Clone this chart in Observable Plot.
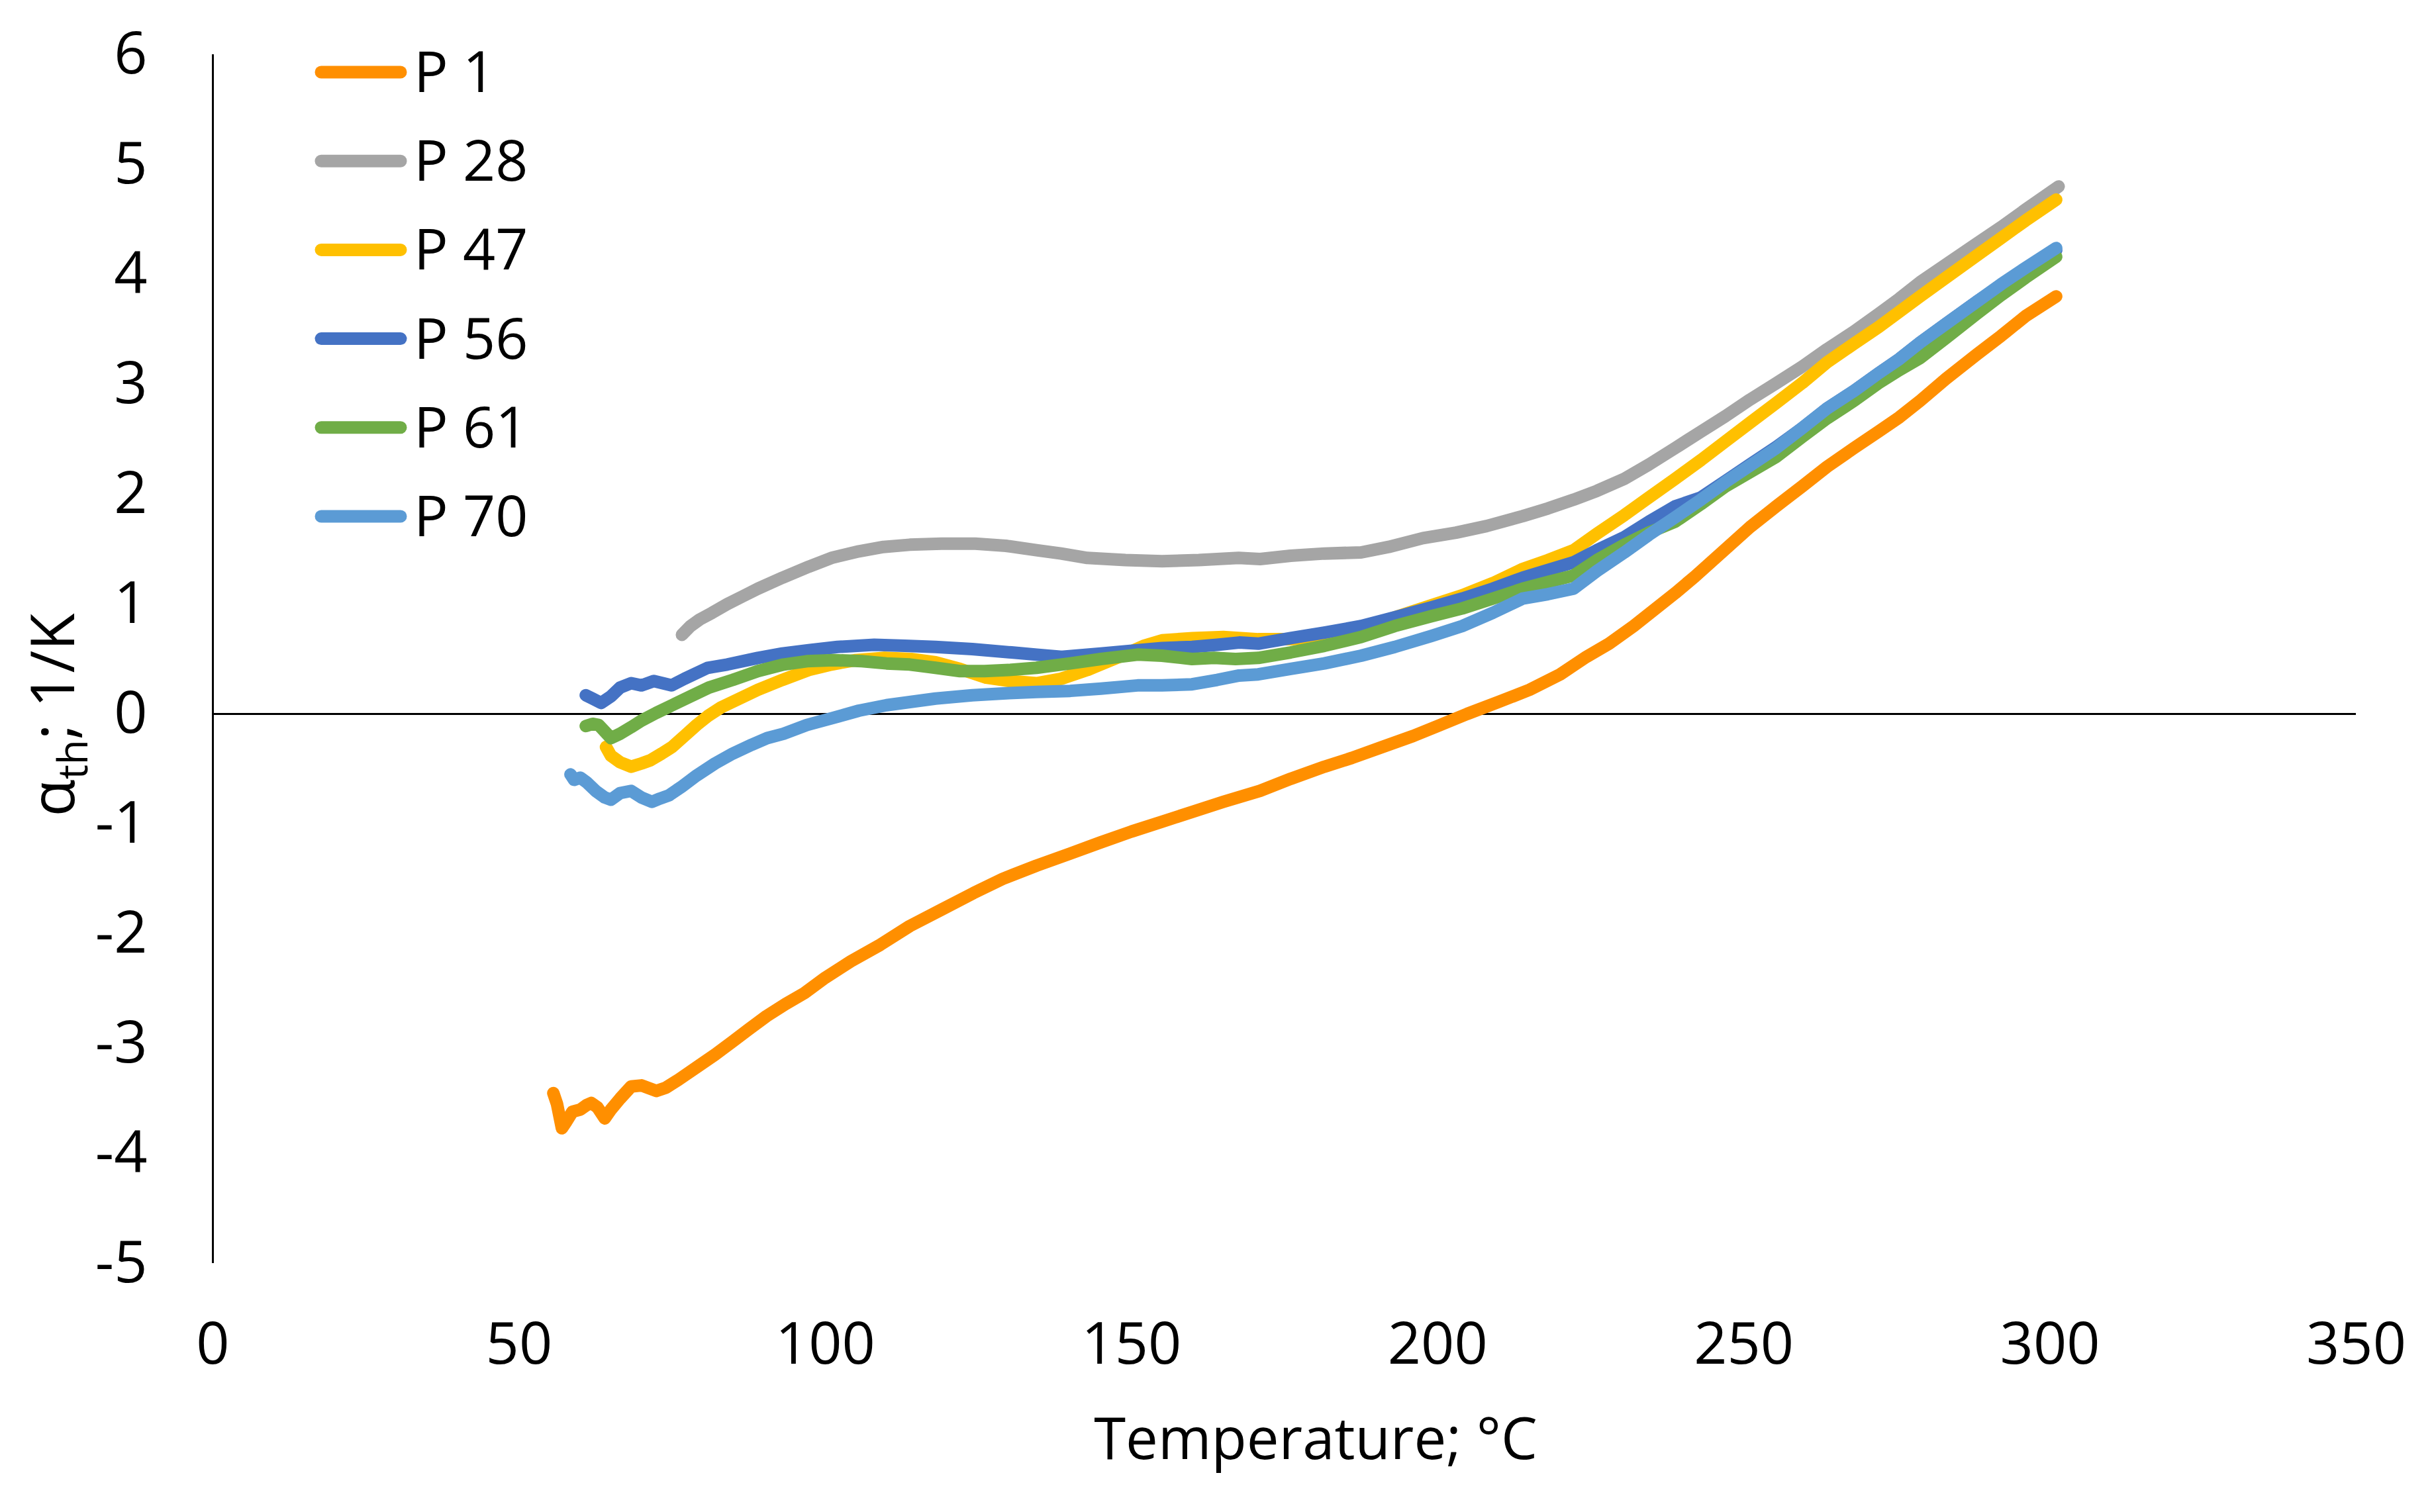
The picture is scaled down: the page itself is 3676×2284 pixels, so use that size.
<!DOCTYPE html>
<html><head><meta charset="utf-8">
<script src="https://cdn.jsdelivr.net/npm/d3@7"></script>
<script src="https://cdn.jsdelivr.net/npm/@observablehq/plot@0.6"></script>
<style>html,body{margin:0;padding:0;background:#fff;overflow:hidden}</style>
</head><body><div id="chart"></div>
<script>
const seriesNames = ["P 1", "P 28", "P 47", "P 56", "P 61", "P 70"];
const seriesColors = ["#FF8F00", "#A5A5A5", "#FFC000", "#4472C4", "#70AD47", "#5B9BD5"];
const xTicks = [0, 50, 100, 150, 200, 250, 300, 350];
const yTicks = [-5, -4, -3, -2, -1, 0, 1, 2, 3, 4, 5, 6];

const p1T = [55.6,56.2,57,57.6,58.7,60,61,61.8,62.8,64,65,66.5,68.3,70,72.4,74,76,79.4,82,84.9,87.5,90.4,93.5,96.6,100,104.2,109,113.8,119,124.2,129,134.5,140,144.9,150,155,160,165,171,176,181.5,186,191,196,200,204.8,210,215,220,224.3,228,232,238.8,242,247,251,255.3,259.5,263.6,268,272,275.4,278.8,283,288,292,296,301];
const p1V = [-3.45,-3.55,-3.77,-3.72,-3.62,-3.6,-3.56,-3.54,-3.58,-3.68,-3.6,-3.5,-3.39,-3.38,-3.43,-3.4,-3.33,-3.2,-3.1,-2.98,-2.87,-2.75,-2.64,-2.54,-2.4,-2.25,-2.1,-1.93,-1.78,-1.63,-1.5,-1.38,-1.27,-1.17,-1.07,-0.98,-0.89,-0.8,-0.7,-0.59,-0.48,-0.4,-0.3,-0.2,-0.11,0,0.11,0.22,0.36,0.52,0.64,0.8,1.1,1.25,1.5,1.7,1.89,2.07,2.25,2.42,2.57,2.7,2.85,3.05,3.27,3.44,3.62,3.8];

const p28T = [76.6,78,79.5,81.5,84,86.5,89,93,97.3,101,105.5,109.5,113.8,119,124.5,129.5,134.5,138.5,142.8,149,155,161,167.5,171,176,181.5,187.5,192,197.6,203,208,213.9,218,222.2,226,230.5,234.5,238.8,243,247,251,255.3,259.5,263.6,268,272,275.4,278.8,283,288,292,296,301.4];
const p28V = [0.72,0.8,0.86,0.92,1,1.07,1.14,1.24,1.34,1.42,1.48,1.52,1.54,1.55,1.55,1.53,1.49,1.46,1.42,1.4,1.39,1.4,1.42,1.41,1.44,1.46,1.47,1.52,1.6,1.65,1.71,1.8,1.87,1.95,2.03,2.14,2.27,2.42,2.57,2.71,2.86,3.01,3.16,3.32,3.48,3.64,3.78,3.93,4.09,4.28,4.43,4.59,4.8];

const p47T = [64.2,65,66.5,68.3,70,71.5,73.3,75,77,79,80.8,83,86,89,93,97.3,101,105,109.7,114,118,122,126.3,130,134.5,138.5,142.8,148,152,155,160,165,170.7,176,181.5,187.5,193,199,204,209,213.9,218,222.2,226,230.5,234.5,238.8,243,247,251,255.3,259.5,263.6,268,272,275.4,278.8,283,288,292,296,301];
const p47V = [-0.3,-0.38,-0.44,-0.48,-0.45,-0.42,-0.36,-0.3,-0.2,-0.1,-0.02,0.06,0.14,0.22,0.31,0.4,0.45,0.49,0.51,0.5,0.47,0.41,0.33,0.3,0.28,0.32,0.4,0.52,0.62,0.67,0.69,0.7,0.68,0.68,0.7,0.78,0.88,0.99,1.08,1.19,1.32,1.4,1.49,1.64,1.81,1.97,2.14,2.31,2.48,2.65,2.83,3.01,3.2,3.37,3.52,3.66,3.8,3.97,4.17,4.33,4.49,4.68];

const p56T = [60.9,62,63.4,65,66.5,68.3,70,72,74.9,77,80.8,84,89,93,97.3,102,108,113,118,124,130.4,134.5,138.6,145,151,155,159.9,164,167.6,170.7,176,181.5,187.5,193,199,204,209,213.9,218,222.2,226,230.5,234.5,238.8,243,247,251,255.3,259.5,263.6,268,272,275.4,278.8,283,288,292,296,301];
const p56V = [0.17,0.14,0.1,0.16,0.24,0.28,0.26,0.3,0.26,0.32,0.42,0.45,0.51,0.55,0.58,0.61,0.63,0.62,0.61,0.59,0.56,0.54,0.52,0.55,0.58,0.6,0.61,0.63,0.65,0.64,0.69,0.74,0.8,0.88,0.97,1.05,1.14,1.24,1.31,1.38,1.49,1.61,1.75,1.89,1.97,2.12,2.27,2.43,2.6,2.78,2.94,3.1,3.23,3.38,3.55,3.75,3.9,4.05,4.22];

const p61T = [60.9,62,63,64,65,66.5,68.3,70,72.4,75,78,81,84.9,89,93.2,97,101.4,106,110,113.8,118,122,126,130,134.5,140,145,151,155,159.9,163.5,167,170.7,176,181.5,187.5,193,199,204,209,213.9,218,222.2,226,230.5,234.5,238.8,243,247,251,255.3,259.5,263.6,268,272,275.4,278.8,283,288,292,296,301];
const p61V = [-0.11,-0.09,-0.1,-0.16,-0.22,-0.18,-0.12,-0.06,0.01,0.08,0.16,0.24,0.31,0.39,0.45,0.48,0.49,0.48,0.46,0.45,0.42,0.39,0.39,0.4,0.42,0.46,0.5,0.54,0.53,0.5,0.51,0.5,0.51,0.56,0.62,0.7,0.8,0.89,0.96,1.05,1.14,1.2,1.26,1.4,1.54,1.65,1.75,1.91,2.07,2.2,2.34,2.52,2.69,2.85,3.01,3.13,3.24,3.42,3.64,3.81,3.97,4.16];

const p70T = [58.4,59,60,61,62.5,64,65,66.5,68.3,70,71.7,73,74.5,76.6,79,82,84.9,88,90.5,93.2,97,101,105.5,110,114,118,124,130,134.5,140,145,151,155,159.9,164,167.6,170.7,176,181.5,187.5,193,199,204,209,213.9,218,222.2,226,230.5,234.5,238.8,243,247,251,255.3,259.5,263.6,268,272,275.4,278.8,283,288,292,296,301];
const p70V = [-0.55,-0.6,-0.58,-0.62,-0.7,-0.76,-0.78,-0.72,-0.7,-0.76,-0.8,-0.77,-0.74,-0.66,-0.56,-0.45,-0.36,-0.28,-0.22,-0.18,-0.1,-0.04,0.03,0.08,0.11,0.14,0.17,0.19,0.2,0.21,0.23,0.26,0.26,0.27,0.31,0.35,0.36,0.41,0.46,0.53,0.61,0.71,0.8,0.92,1.05,1.09,1.14,1.3,1.47,1.63,1.79,1.95,2.11,2.26,2.42,2.6,2.78,2.94,3.1,3.23,3.38,3.55,3.75,3.91,4.06,4.24];

const seriesData = [[p1T, p1V], [p28T, p28V], [p47T, p47V], [p56T, p56V], [p61T, p61V], [p70T, p70V]];
const table = [];
seriesData.forEach(([T, V], k) => T.forEach((t, i) => table.push({series: seriesNames[k], T: t, v: V[i]})));

const FONT = "'Open Sans', 'Noto Sans', sans-serif";

const chart = Plot.plot({
  width: 3676, height: 2284,
  marginLeft: 321, marginRight: 118, marginTop: 82, marginBottom: 376,
  style: {fontFamily: FONT, fontSize: "88px", color: "#000", background: "#fff"},
  x: {domain: [0, 350]},
  y: {domain: [-5, 6]},
  color: {domain: seriesNames, range: seriesColors},
  marks: [
    Plot.ruleY([0], {stroke: "#000", strokeWidth: 3}),
    Plot.ruleX([0], {stroke: "#000", strokeWidth: 3}),
    Plot.line(table, {x: "T", y: "v", z: "series", stroke: "series", strokeWidth: 19, strokeLinecap: "round", strokeLinejoin: "round"}),
    Plot.axisX(xTicks, {tickSize: 0, tickPadding: 89, tickFormat: d => String(d), label: null, fontSize: 88, fill: "#000"}),
    Plot.axisY(yTicks, {tickSize: 0, tickPadding: 99, tickFormat: d => String(d), label: null, fontSize: 88, fill: "#000"})
  ]
});
document.getElementById("chart").appendChild(chart);

const svg = d3.select(chart);
// y-axis title
const yt = svg.append("text")
  .attr("transform", "translate(112,1080) rotate(-90)")
  .attr("text-anchor", "middle")
  .attr("font-family", FONT).attr("font-size", 92).attr("fill", "#000");
yt.append("tspan").text("α");
yt.append("tspan").attr("font-size", 62).attr("dy", 20).text("th");
yt.append("tspan").attr("dy", -20).text("; 1/K");
// x-axis title
svg.append("text")
  .attr("x", 1987).attr("y", 2204)
  .attr("text-anchor", "middle")
  .attr("font-family", FONT).attr("font-size", 87).attr("fill", "#000")
  .text("Temperature; °C");
// legend
const lg = svg.append("g").attr("text-anchor", "start");
seriesNames.forEach((name, i) => {
  const y = 109 + 134.2 * i;
  lg.append("line").attr("x1", 485).attr("x2", 605).attr("y1", y).attr("y2", y)
    .attr("stroke", seriesColors[i]).attr("stroke-width", 19).attr("stroke-linecap", "round");
  lg.append("text").attr("x", 625).attr("y", y + 30).attr("text-anchor", "start")
    .attr("font-family", FONT).attr("font-size", 86).attr("fill", "#000").text(name);
});
</script>
</body></html>
